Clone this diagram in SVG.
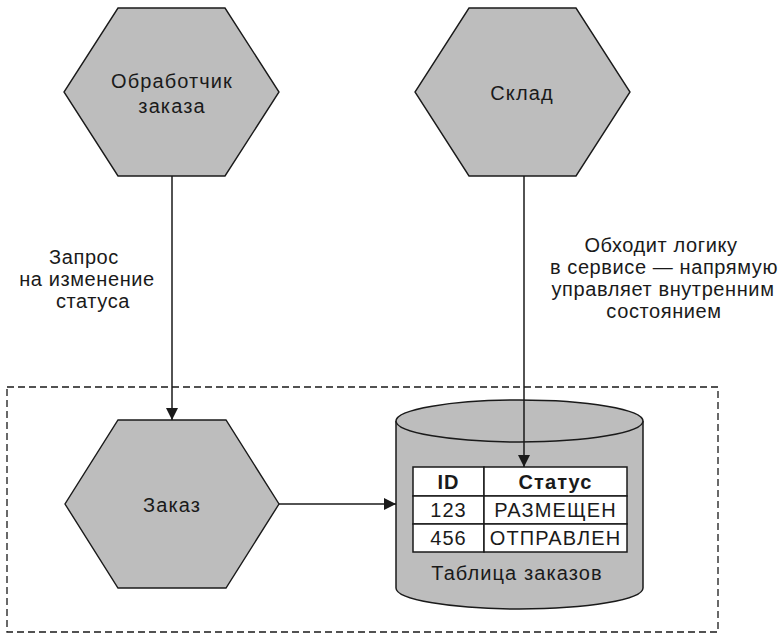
<svg xmlns="http://www.w3.org/2000/svg" width="782" height="634" viewBox="0 0 782 634">
  <style>
    .hex { fill: #bdbdbd; stroke: #1a1a1a; stroke-width: 1.4; }
    .db { fill: #bdbdbd; stroke: #1a1a1a; stroke-width: 1.5; }
    .txt { font-family: "Liberation Sans", Arial, sans-serif; font-size: 20px; letter-spacing: 1.1px; fill: #1a1a1a; text-anchor: middle; }
    .lbl { letter-spacing: 0.6px; }
    .bold { font-weight: bold; }
    .edge { stroke: #1a1a1a; stroke-width: 1.5; fill: none; marker-end: url(#arrow); }
    .boundary { fill: none; stroke: #1a1a1a; stroke-width: 1.3; stroke-dasharray: 7 4; }
    .cell { fill: #ffffff; stroke: #1a1a1a; stroke-width: 1.5; }
  </style>
  <defs>
    <marker id="arrow" viewBox="0 0 12 12" refX="12" refY="6" markerWidth="12" markerHeight="12" markerUnits="userSpaceOnUse" orient="auto">
      <path d="M0,0 L12,6 L0,12 Z" fill="#1a1a1a"/>
    </marker>
  </defs>
  <rect width="782" height="634" fill="#ffffff"/>

  <!-- service boundary -->
  <rect id="boundary" class="boundary" x="7" y="387" width="711" height="245"/>

  <g id="order-handler">
    <polygon class="hex" points="118,8 225,8 279,92 225,176 118,176 64,92"/>
    <text class="txt" x="172" y="88">Обработчик</text>
    <text class="txt" x="172" y="113">заказа</text>
  </g>

  <g id="warehouse">
    <polygon class="hex" points="469,8 576,8 630,92 576,176 469,176 415,92"/>
    <text class="txt" x="522" y="100">Склад</text>
  </g>

  <g id="order">
    <polygon class="hex" points="118,420 226,420 279,504 226,588 118,588 65,504"/>
    <text class="txt" x="172" y="512">Заказ</text>
  </g>

  <g id="orders-table">
    <path class="db" d="M396,421 L396,588 A123.5,21 0 0 0 643,588 L643,421"/>
    <ellipse class="db" cx="519.5" cy="421" rx="123.5" ry="21"/>
    <rect class="cell" x="413" y="467" width="71" height="29"/>
    <rect class="cell" x="484" y="467" width="143" height="29"/>
    <rect class="cell" x="413" y="496" width="71" height="28"/>
    <rect class="cell" x="484" y="496" width="143" height="28"/>
    <rect class="cell" x="413" y="524" width="71" height="28"/>
    <rect class="cell" x="484" y="524" width="143" height="28"/>
    <text class="txt bold" x="448.5" y="489">ID</text>
    <text class="txt bold" x="555.5" y="489">Статус</text>
    <text class="txt" x="448.5" y="517">123</text>
    <text class="txt" x="555.5" y="517">РАЗМЕЩЕН</text>
    <text class="txt" x="448.5" y="545">456</text>
    <text class="txt" x="555.5" y="545">ОТПРАВЛЕН</text>
    <text class="txt" x="517" y="580">Таблица заказов</text>
  </g>

  <g id="connectors">
    <line class="edge" x1="172" y1="176" x2="172" y2="420"/>
    <line class="edge" x1="524" y1="176" x2="524" y2="467"/>
    <line class="edge" x1="279" y1="504" x2="396" y2="504"/>
  </g>

  <g id="labels">
    <text class="txt lbl" x="84" y="264">Запрос</text>
    <text class="txt lbl" x="87" y="286">на изменение</text>
    <text class="txt lbl" x="93" y="308">статуса</text>
    <text class="txt lbl" x="661" y="252">Обходит логику</text>
    <text class="txt lbl" x="664" y="274">в сервисе — напрямую</text>
    <text class="txt lbl" x="663" y="296">управляет внутренним</text>
    <text class="txt lbl" x="664" y="318">состоянием</text>
  </g>
</svg>
